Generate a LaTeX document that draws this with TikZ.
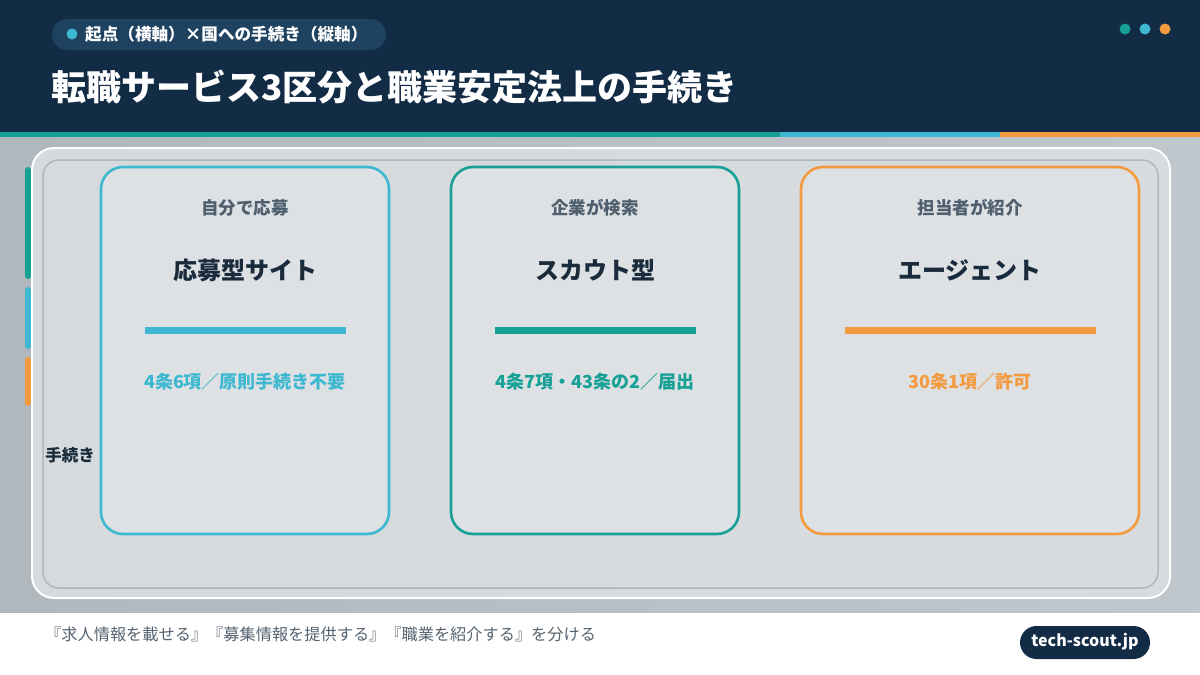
\documentclass[tikz,border=0pt]{standalone}
\usepackage{fontspec}
\setmainfont{Noto Sans CJK JP}
\definecolor{navy}{HTML}{132C45}
\definecolor{pillc}{HTML}{1F4261}
\definecolor{teal}{HTML}{17A096}
\definecolor{sky}{HTML}{3DB8D0}
\definecolor{orng}{HTML}{F39A3E}
\definecolor{bgray}{HTML}{B9C1C7}
\definecolor{panel}{HTML}{DADEE1}
\definecolor{cardf}{HTML}{DDE1E4}
\definecolor{ink}{HTML}{1A2B3C}
\definecolor{subink}{HTML}{4F5F6E}
\definecolor{foot}{HTML}{556370}
\definecolor{inner}{HTML}{AEB8BE}
\tikzset{
  card/.style={line width=2.6pt, rounded corners=22pt, fill=cardf},
  subt/.style={font=\bfseries\fontsize{17.5}{20}\selectfont, text=subink},
  ttl/.style={font=\bfseries\fontsize{24}{28}\selectfont, text=ink},
  proc/.style={font=\bfseries\fontsize{18}{21}\selectfont},
  sidebar/.style={line width=6pt, line cap=round},
}
\begin{document}
\begin{tikzpicture}[x=1pt,y=-1pt]
\useasboundingbox (0,0) rectangle (1200,675);
% backgrounds
\fill[white] (0,0) rectangle (1200,675);
\shade[left color=bgray!95!black, right color=bgray!90!white] (0,137) rectangle (1200,612);
\fill[white,opacity=0.25] (760,380) ellipse (260 and 200);
\fill[navy] (0,0) rectangle (1200,132);
\fill[teal] (0,132) rectangle (780,137);
\fill[sky] (780,132) rectangle (1000,137);
\fill[orng] (1000,132) rectangle (1200,137);
% header pill
\fill[pillc] (52,19) [rounded corners=15.5pt] rectangle (386,50);
\fill[sky] (72,34) circle (5.5);
\node[anchor=west, text=white, font=\bfseries\fontsize{16.6}{19}\selectfont, inner sep=0] (pill) at (85,34.5) {起点（横軸）×国への手続き（縦軸）};
\node[anchor=west, text=white, font=\bfseries\fontsize{35}{40}\selectfont, inner sep=0] (title) at (51,87) {転職サービス3区分と職業安定法上の手続き};
\fill[teal] (1125,29) circle (5.5);
\fill[sky] (1145,29) circle (5.5);
\fill[orng] (1165,29) circle (5.5);
% panels
\draw[white, line width=2pt, fill=panel, fill opacity=0.9, rounded corners=22pt] (32,148) rectangle (1170,598);
\draw[inner, line width=1.5pt, rounded corners=16pt] (43,160) rectangle (1158,588);
% side bars
\draw[sidebar, teal] (28,170) -- (28,276);
\draw[sidebar, sky] (28,290) -- (28,346);
\draw[sidebar, orng] (28,360) -- (28,403);
\node[font=\bfseries\fontsize{16.5}{19}\selectfont, text=ink] (proclbl) at (70,455) {手続き};
% cards
\draw[card, draw=sky] (101,167) rectangle (389,534);
\draw[card, draw=teal] (451,167) rectangle (739,534);
\draw[card, draw=orng] (801,167) rectangle (1139,534);
% card 1
\node[subt] (s1) at (245,208) {自分で応募};
\node[ttl] (t1) at (245,270) {応募型サイト};
\fill[sky] (145,327) rectangle (346,334);
\node[proc, text=sky] (p1) at (245,382) {4条6項／原則手続き不要};
% card 2
\node[subt] (s2) at (595,208) {企業が検索};
\node[ttl] (t2) at (595,270) {スカウト型};
\fill[teal] (495,327) rectangle (696,334);
\node[proc, text=teal] (p2) at (595,382) {4条7項・43条の2／届出};
% card 3
\node[subt] (s3) at (970,208) {担当者が紹介};
\node[ttl] (t3) at (970,270) {エージェント};
\fill[orng] (845,327) rectangle (1096,334);
\node[proc, text=orng] (p3) at (970,382) {30条1項／許可};
% footer
\node[anchor=west, text=foot, font=\fontsize{16.2}{19}\selectfont, inner sep=0] (ftext) at (45,634) {『求人情報を載せる』『募集情報を提供する』『職業を紹介する』を分ける};
\fill[navy, rounded corners=16.5pt] (1020,626) rectangle (1150,659);
\node[text=white, font=\bfseries\fontsize{16}{19}\selectfont] (brand) at (1085,642) {tech-scout.jp};
\end{tikzpicture}
\end{document}
